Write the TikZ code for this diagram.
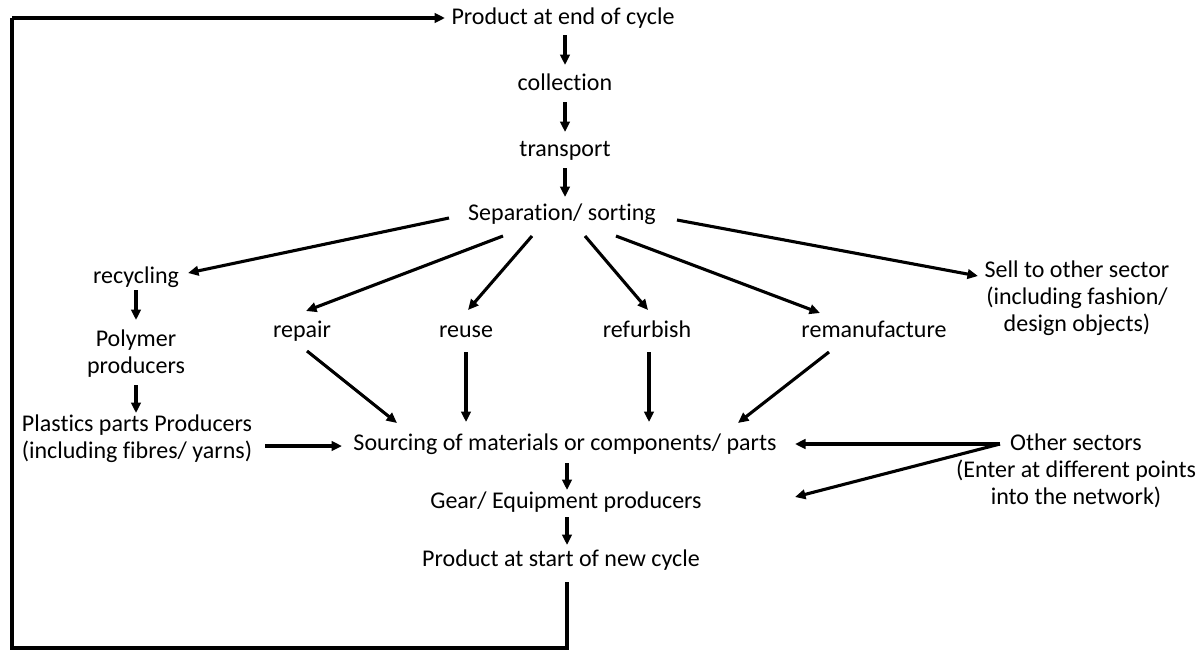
\documentclass[tikz,border=0pt]{standalone}
\usepackage{fontspec}
\setmainfont{Carlito}[Ligatures=NoCommon]
\usetikzlibrary{arrows.meta,calc}
\begin{document}
\begin{tikzpicture}[x=1pt,y=-1pt,
  lbl/.style={inner sep=0pt,align=center,font=\fontsize{24}{27}\selectfont,execute at begin node=\strut},
  arr/.style={line width=3.1pt,-{Triangle[length=10.5pt,width=9.5pt]}},
  ln/.style={line width=3.1pt}]
\useasboundingbox (0,0) rectangle (1202,651);
\node[lbl] (pend) at (563,19) {Product at end of cycle};
\node[lbl] (coll) at (565,85) {collection};
\node[lbl] (trans) at (565,151) {transport};
\node[lbl] (sep) at (562,215) {Separation/ sorting};
\node[lbl] (rec) at (136,278) {recycling};
\node[lbl] (poly) at (136,355) {Polymer\strut\\producers\strut};
\node[lbl] (plast) at (137,440) {Plastics parts Producers\strut\\(including fibres/ yarns)\strut};
\node[lbl] (rep) at (302,332) {repair};
\node[lbl] (reu) at (466,332) {reuse};
\node[lbl] (ref) at (647,332) {refurbish};
\node[lbl] (rem) at (874,332) {remanufacture};
\node[lbl] (sell) at (1077,299) {Sell to other sector\strut\\(including fashion/\strut\\design objects)\strut};
\node[lbl] (src) at (565,445) {Sourcing of materials or components/ parts};
\node[lbl] (gear) at (566,503) {Gear/ Equipment producers};
\node[lbl] (pstart) at (561,561) {Product at start of new cycle};
\node[lbl] (oth) at (1076,472) {Other sectors\strut\\(Enter at different points\strut\\into the network)\strut};
\coordinate (bl) at (12,648);
\coordinate (tl) at (12,18);
% main vertical chain
\draw[arr] ($(pend)+(2,16)$) -- ($(coll)+(0,-20)$);
\draw[arr] ($(coll)+(0,17)$) -- ($(trans)+(0,-19)$);
\draw[arr] ($(trans)+(0,17)$) -- ($(sep)+(3,-18)$);
% fan out from separation
\draw[arr] ($(sep)+(-113,3)$) -- ($(rec)+(52,-5)$);
\draw[arr] ($(sep)+(-59,21)$) -- ($(rep)+(4,-21)$);
\draw[arr] ($(sep)+(-30,21)$) -- ($(reu)+(2,-22)$);
\draw[arr] ($(sep)+(23,21)$) -- ($(ref)+(1,-22)$);
\draw[arr] ($(sep)+(54,21)$) -- ($(rem)+(-54,-19)$);
\draw[arr] ($(sep)+(115,5)$) -- ($(sell)+(-99,-23)$);
% recycling chain
\draw[arr] ($(rec)+(0,12)$) -- ($(poly)+(0,-35)$);
\draw[arr] ($(poly)+(0,30)$) -- ($(plast)+(-1,-27)$);
\draw[arr] ($(plast)+(128,6)$) -- ($(src)+(-223,1)$);
% into sourcing
\draw[arr] ($(rep)+(5,19)$) -- ($(src)+(-168,-22)$);
\draw[arr] ($(reu)+(0,20)$) -- ($(src)+(-99,-23)$);
\draw[arr] ($(ref)+(2,20)$) -- ($(src)+(84,-23)$);
\draw[arr] ($(rem)+(-45,20)$) -- ($(src)+(173,-22)$);
% other sectors
\draw[arr] ($(oth)+(-76,-28)$) -- ($(src)+(230,-1)$);
\draw[arr] ($(oth)+(-76,-28)$) -- ($(gear)+(229,-6)$);
% lower chain
\draw[arr] ($(src)+(2,18)$) -- ($(gear)+(1,-13)$);
\draw[arr] ($(gear)+(1,14)$) -- ($(pstart)+(6,-16)$);
% loop back
\draw[ln] ($(pstart)+(6,21)$) |- (bl) -- (tl);
\draw[arr] (tl) -- ($(pend)+(-118,-1)$);
\end{tikzpicture}
\end{document}
